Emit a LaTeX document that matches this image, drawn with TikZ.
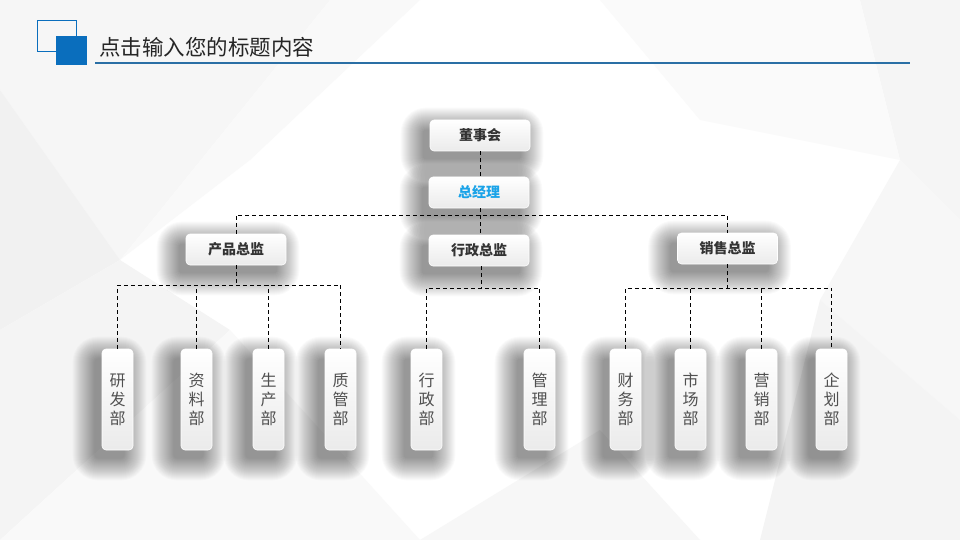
\documentclass[tikz,border=0pt]{standalone}
\usepackage{fontspec}
\setmainfont{Noto Sans CJK SC}
\usetikzlibrary{calc}
\definecolor{hblue}{HTML}{0A6EBD}
\definecolor{lineblue}{HTML}{2A6FA5}
\definecolor{txtdark}{HTML}{333333}
\definecolor{txtgray}{HTML}{505050}
\definecolor{cyanblue}{HTML}{1AA3E8}
\pgfdeclarelayer{back}
\pgfdeclarelayer{shade}
\pgfsetlayers{back,shade,main}
\tikzset{
  boxbase/.style={rounded corners=4pt, draw=white, line width=0.6pt,
    top color=white, bottom color=gray!16, inner sep=0pt},
  topbox/.style={boxbase, minimum width=100pt, minimum height=31pt,
    font=\fontsize{14}{16}\selectfont\bfseries, text=txtdark},
  deptbox/.style={boxbase, minimum width=31pt, minimum height=101pt,
    font=\fontsize{16}{19}\selectfont, text=txtgray, align=center},
  dashline/.style={draw=black, line width=0.9pt, dash pattern=on 4pt off 3pt},
  shadowpiece/.style={fill=black, opacity=0.02}
}
\newcommand{\boxshadow}[1]{%
  \begin{pgfonlayer}{shade}
  \foreach \r in {0,1,...,22} {
    \fill[shadowpiece, rounded corners=\r pt+3pt]
      ($(#1.north west)+(-7-\r,10-\r)$) rectangle ($(#1.south east)+(-9+\r,8+\r)$);
  }
  \end{pgfonlayer}}
\begin{document}
\begin{tikzpicture}[x=1pt,y=-1pt]
\useasboundingbox (0,0) rectangle (960,540);
% background
\begin{pgfonlayer}{back}
\fill[white] (0,0) rectangle (960,540);
\fill[gray!7] (0,0) -- (330,0) -- (120,260) -- (0,90) -- cycle;
\fill[gray!11] (0,90) -- (120,260) -- (0,330) -- cycle;
\fill[gray!5] (120,260) -- (330,0) -- (420,0) -- (250,160) -- cycle;
\fill[gray!9] (0,330) -- (120,260) -- (230,330) -- (0,540) -- cycle;
\fill[gray!5] (230,330) -- (420,540) -- (0,540) -- cycle;
\fill[gray!6] (420,540) -- (600,430) -- (700,540) -- cycle;
\fill[gray!8] (860,0) -- (960,0) -- (960,220) -- (900,160) -- cycle;
\fill[gray!6] (900,160) -- (960,220) -- (960,420) -- (820,300) -- cycle;
\fill[gray!9] (820,300) -- (960,420) -- (960,540) -- (760,540) -- cycle;
\fill[gray!4] (600,0) -- (860,0) -- (900,160) -- (700,120) -- cycle;
\end{pgfonlayer}
% header
\draw[hblue, line width=1pt] (37.5,20.5) rectangle (76,52);
\fill[hblue] (56,36) rectangle (87,65);
\draw[lineblue, line width=1.8pt] (95,63) -- (910,63);
\node[anchor=west, inner sep=0pt, font=\fontsize{21.5}{23}\selectfont, text=black!85] (title) at (99,47) {点击输入您的标题内容};
% top level
\node[topbox] (dsh) at (480,135.5) {董事会};
\node[topbox, text=cyanblue] (zjl) at (479,192.5) {总经理};
\node[topbox] (cp) at (236,249.5) {产品总监};
\node[topbox] (xz) at (479,250.5) {行政总监};
\node[topbox] (xs) at (727.5,248.5) {销售总监};
% departments
\node[deptbox] (yf) at (117.5,399.5) {研\\发\\部};
\node[deptbox] (zl) at (196.5,399.5) {资\\料\\部};
\node[deptbox] (sc) at (268.5,399.5) {生\\产\\部};
\node[deptbox] (zg) at (340.5,399.5) {质\\管\\部};
\node[deptbox] (xzb) at (426.5,399.5) {行\\政\\部};
\node[deptbox] (gl) at (539.5,399.5) {管\\理\\部};
\node[deptbox] (cw) at (625.5,399.5) {财\\务\\部};
\node[deptbox] (sch) at (690.5,399.5) {市\\场\\部};
\node[deptbox] (yx) at (761.5,399.5) {营\\销\\部};
\node[deptbox] (qh) at (831.5,399.5) {企\\划\\部};
\foreach \n in {dsh,zjl,cp,xz,xs,yf,zl,sc,zg,xzb,gl,cw,sch,yx,qh} {\boxshadow{\n}}
% connectors
\coordinate (b1) at (480,215);
\coordinate (c1) at (236,285);
\coordinate (c2) at (481,288);
\coordinate (c3) at (727,288);
\draw[dashline] (dsh.south) -- (dsh.south |- zjl.north);
\draw[dashline] (zjl.south -| b1) -- (b1);
\draw[dashline] (cp.north) -- (cp.north |- b1) -- (xs.north |- b1) -- (xs.north);
\draw[dashline] (b1) -- (b1 |- xz.north);
\draw[dashline] (cp.south) -- (c1);
\draw[dashline] (yf.north) -- (yf.north |- c1) -- (zg.north |- c1) -- (zg.north);
\draw[dashline] (zl.north) -- (zl.north |- c1);
\draw[dashline] (sc.north) -- (sc.north |- c1);
\draw[dashline] (xz.south -| c2) -- (c2);
\draw[dashline] (xzb.north) -- (xzb.north |- c2) -- (gl.north |- c2) -- (gl.north);
\draw[dashline] (xs.south -| c3) -- (c3);
\draw[dashline] (cw.north) -- (cw.north |- c3) -- (qh.north |- c3) -- (qh.north);
\draw[dashline] (sch.north) -- (sch.north |- c3);
\draw[dashline] (yx.north) -- (yx.north |- c3);
\end{tikzpicture}
\end{document}
